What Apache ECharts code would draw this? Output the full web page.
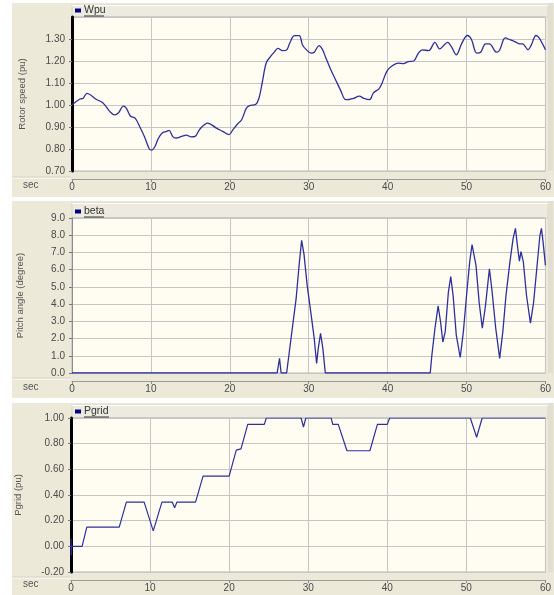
<!DOCTYPE html>
<html>
<head>
<meta charset="utf-8">
<script src="https://cdn.jsdelivr.net/npm/echarts@6/dist/echarts.min.js"></script>
<style>
html,body{margin:0;padding:0;background:#fff;}
#c{width:554px;height:595px;}
</style>
</head>
<body>
<div id="c"></div>
<script>
// ---- data ----
var wpuT = [0,1.0,1.4,1.9,3.1,3.9,4.8,5.4,5.9,6.5,6.9,7.4,8.0,8.6,9.2,9.8,10.1,10.5,10.9,11.4,12.0,12.3,12.8,13.2,13.9,14.5,15.1,15.6,16.2,17.2,18.3,19.1,19.9,20.4,21.0,21.5,22.1,22.5,23.3,23.7,24.1,24.6,25.1,25.6,26.1,26.7,27.2,27.6,28.2,28.8,29.2,29.6,30.3,30.7,31.3,31.7,32.1,32.8,33.4,34.0,34.7,35.1,35.7,36.4,37.0,37.7,38.2,38.9,39.3,39.9,40.5,41.4,42.0,42.6,43.3,43.9,44.4,45.2,46.0,46.6,47.6,48.1,48.7,49.4,50.1,50.6,51.3,51.8,52.4,52.9,53.8,54.2,54.9,55.5,56.3,56.7,57.1,57.8,58.2,58.8,59.2,60];
var wpuV = [1.00,1.027,1.03,1.053,1.025,1.01,0.97,0.955,0.965,0.995,0.985,0.95,0.94,0.90,0.855,0.80,0.795,0.81,0.845,0.872,0.88,0.885,0.855,0.85,0.857,0.863,0.855,0.857,0.89,0.918,0.895,0.88,0.865,0.888,0.915,0.933,0.986,0.997,1.003,1.032,1.10,1.19,1.218,1.239,1.257,1.247,1.25,1.282,1.315,1.315,1.274,1.255,1.236,1.24,1.27,1.255,1.221,1.16,1.115,1.07,1.024,1.025,1.03,1.04,1.03,1.024,1.055,1.073,1.10,1.153,1.176,1.19,1.188,1.197,1.20,1.236,1.251,1.247,1.285,1.255,1.285,1.264,1.228,1.28,1.316,1.30,1.236,1.24,1.278,1.278,1.24,1.25,1.305,1.297,1.285,1.278,1.278,1.251,1.272,1.316,1.305,1.251];

var betaT = [0,26.0,26.3,26.5,27.2,27.7,28.4,28.8,29.1,29.4,29.8,30.3,30.7,31.0,31.2,31.5,31.8,32.1,45.4,45.6,46.0,46.4,46.7,47.0,47.3,47.7,48.0,48.3,48.7,49.2,49.6,50.0,50.4,50.7,51.2,51.6,52.0,52.4,52.9,53.2,53.7,54.2,54.6,55.0,55.5,55.9,56.2,56.5,56.7,56.9,57.2,57.6,58.1,58.5,58.9,59.3,59.5,59.7,60];
var betaV = [0,0,0.85,0,0,1.8,4.3,6.35,7.7,6.9,5.1,3.4,2.0,0.55,1.4,2.3,1.4,0,0,1.0,2.6,3.9,3.0,1.8,2.4,4.7,5.6,4.5,2.2,0.9,2.4,4.5,6.45,7.45,6.25,4.1,2.6,3.9,6.05,4.9,2.6,0.85,2.4,4.5,6.45,7.8,8.4,7.2,6.5,7.05,6.45,4.5,2.9,4.1,6.05,8.0,8.4,7.6,6.25];

var pgridT = [0,0.03,0.06,1.4,2.0,6.1,7.0,9.25,10.4,11.5,12.8,13.1,13.4,15.75,16.7,20.0,20.9,21.1,21.5,22.35,24.45,24.7,29.1,29.4,29.7,32.9,33.1,33.8,34.9,37.8,38.75,40.0,40.3,50.5,51.3,52.0,60];
var pgridV = [0.06,-0.07,0,0,0.15,0.15,0.345,0.345,0.12,0.345,0.345,0.30,0.345,0.345,0.547,0.547,0.75,0.75,0.76,0.95,0.95,1.0,1.0,0.93,1.0,1.0,0.95,0.95,0.745,0.745,0.95,0.95,1.0,1.0,0.85,1.0,1.0];

var seriesNames = ['Wpu','beta','Pgrid'];
var yNames = ['Rotor speed (pu)','Pitch angle (degree)','Pgrid (pu)'];
var xTickSec = [0,60,10];

function pairs(t,v){ return t.map(function(x,i){ return [x, v[i]]; }); }

var FONT = 'Liberation Sans, Arial, sans-serif';
var LINE = '#2F2F9C';
var GRIDC = '#C6C6C6';
var PANEL = '#ECE9D8';
var PLOTBG = '#FFFDF2';

var grids = [
  {left:72, right:6, top:17, height:154},
  {left:72, right:6, top:218, height:155},
  {left:71, right:7, top:418, height:154}
];
grids.forEach(function(g){ g.show = true; g.backgroundColor = PLOTBG; g.borderColor = '#B4B4B4'; g.borderWidth = 1; });

function xAx(i){
  return {
    type:'value', gridIndex:i, min:xTickSec[0], max:xTickSec[1], interval:xTickSec[2], offset:8,
    axisLine:{show:true, onZero:false, lineStyle:{color:'#9A9A9A', width:1}},
    axisTick:{show:true, length:3, lineStyle:{color:'#8A8A8A'}},
    axisLabel:{fontSize:10, color:'#4A4A4A', fontFamily:FONT, margin:3},
    splitLine:{show:true, lineStyle:{color:GRIDC, width:1}}
  };
}
function yAx(i, min, max, itv, dec, thick, gap){
  return {
    type:'value', gridIndex:i, min:min, max:max, interval:itv,
    name: yNames[i], nameLocation:'middle', nameGap:gap,
    nameTextStyle:{fontSize:9.5, color:'#555', fontFamily:FONT},
    axisLine:{show:true, onZero:false, lineStyle:{color: thick ? '#000' : '#8C8C8C', width: thick ? 3 : 1}},
    axisTick:{show:true, length:3, lineStyle:{color:'#777'}},
    axisLabel:{fontSize:10, color:'#4A4A4A', fontFamily:FONT, margin:7, showMaxLabel: i !== 0,
      formatter:function(v){ return v.toFixed(dec); }},
    splitLine:{show:true, lineStyle:{color:GRIDC, width:1}}
  };
}

var panels = [
  {y:3, h:194, top:17, bottom:171, sepY:178, secY:185.5},
  {y:201, h:197, top:218, bottom:373, sepY:379, secY:387},
  {y:403, h:192, top:418, bottom:572, sepY:578, secY:584}
];
var graphics = [];
panels.forEach(function(p, i){
  graphics.push({type:'rect', z:-10, silent:true, shape:{x:12, y:p.y, width:542, height:p.h}, style:{fill:PANEL}});
  graphics.push({type:'rect', z:-9, silent:true, shape:{x:72, y:p.y+2, width:476, height:p.top-p.y-2}, style:{fill:'#EDEBDF', stroke:'#D8D5C6', lineWidth:1}});
  graphics.push({type:'line', z:-8, silent:true, shape:{x1:72, y1:p.y+2.5, x2:548, y2:p.y+2.5}, style:{stroke:'#FFFFFF', lineWidth:1}});
  graphics.push({type:'rect', z:-9, silent:true, shape:{x:548, y:p.y, width:5, height:p.bottom-p.y}, style:{fill:'#E2DFD0'}});
  graphics.push({type:'line', z:-8, silent:true, shape:{x1:12, y1:p.sepY, x2:71, y2:p.sepY}, style:{stroke:'#FFFFFF', lineWidth:1}});
  graphics.push({type:'line', z:-8, silent:true, shape:{x1:12, y1:p.sepY-1, x2:71, y2:p.sepY-1}, style:{stroke:'#D6D3C4', lineWidth:1}});
  graphics.push({type:'text', silent:true, style:{x:23, y:p.secY, text:'sec', fill:'#555', fontSize:10, fontFamily:FONT, verticalAlign:'middle'}});
  var ty = p.top - 6.5;
  graphics.push({type:'rect', silent:true, shape:{x:75, y:ty-2, width:6, height:4}, style:{fill:'#000080'}});
  graphics.push({type:'text', silent:true, style:{x:84, y:ty, text:seriesNames[i], fill:'#333', fontSize:10.5, fontFamily:FONT, verticalAlign:'middle'}});
  var uw = [20, 20, 25][i];
  graphics.push({type:'line', silent:true, shape:{x1:84, y1:ty+5.5, x2:84+uw, y2:ty+5.5}, style:{stroke:'#333', lineWidth:1}});
});

var option = {
  animation:false,
  backgroundColor:'#FFFFFF',
  grid: grids,
  xAxis: [xAx(0), xAx(1), xAx(2)],
  yAxis: [
    yAx(0, 0.7, 1.4, 0.1, 2, true, 45),
    yAx(1, 0, 9, 1, 1, false, 47),
    yAx(2, -0.2, 1.0, 0.2, 2, true, 48)
  ],
  graphic: graphics,
  series: [
    {name:seriesNames[0], type:'line', xAxisIndex:0, yAxisIndex:0, data:pairs(wpuT,wpuV), smooth:0.35, showSymbol:false, lineStyle:{color:LINE, width:1.3}},
    {name:seriesNames[1], type:'line', xAxisIndex:1, yAxisIndex:1, data:pairs(betaT,betaV), showSymbol:false, lineStyle:{color:LINE, width:1.3}},
    {name:seriesNames[2], type:'line', xAxisIndex:2, yAxisIndex:2, data:pairs(pgridT,pgridV), showSymbol:false, lineStyle:{color:LINE, width:1.2}}
  ]
};
var chart = echarts.init(document.getElementById('c'));
chart.setOption(option);
</script>
</body>
</html>
